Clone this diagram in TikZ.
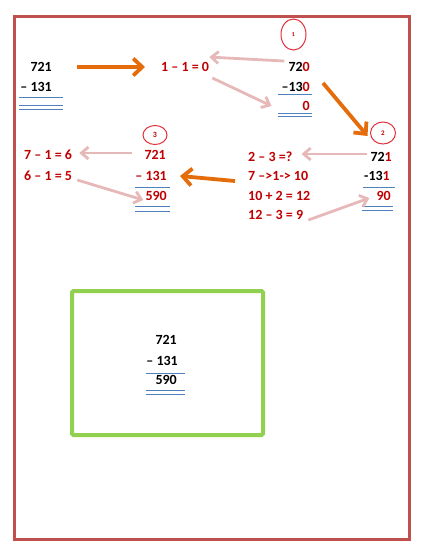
\documentclass[tikz,border=0pt]{standalone}
\usepackage{fontspec}
\setmainfont{Carlito}
\usetikzlibrary{arrows.meta,shapes.geometric}
\definecolor{dred}{HTML}{C00000}
\definecolor{frame}{HTML}{C0504D}
\definecolor{grn}{HTML}{92D050}
\definecolor{orng}{HTML}{E46C0A}
\definecolor{pnk}{HTML}{E6B9B8}
\definecolor{bline}{HTML}{4F81BD}
\definecolor{circred}{HTML}{E0303A}
\tikzset{
  num/.style={inner sep=0pt, text height=9.5pt, text depth=0pt, font=\fontsize{14}{16}\bfseries\selectfont, text=black},
  rnum/.style={num, text=dred},
  orangearr/.style={draw=orng, line width=3.8pt, -{Straight Barb[length=9pt,width=17pt]}},
  pinkarr/.style={draw=pnk, line width=2.8pt, -{Straight Barb[length=7pt,width=12pt]}},
  sumline/.style={draw=bline, line width=0.9pt},
  circ/.style={ellipse, draw=circred, line width=1pt, inner sep=0pt, outer sep=0pt, text=dred, font=\fontsize{7}{8}\bfseries\selectfont}
}
\begin{document}
\begin{tikzpicture}[x=1pt,y=-1pt]
\useasboundingbox (0,0) rectangle (422,547);
% outer frame
\draw[frame, line width=3pt] (14,16) rectangle (409,539);
% green box
\draw[grn, line width=4pt, rounded corners=1.5pt] (72,291) rectangle (263,435);

% top-left sum
\node[num, anchor=east] (tl1) at (52,67) {721};
\node[num, anchor=east] (tl2) at (52,87) {– 131};
\draw[sumline] (19,97) -- (63,97);
\draw[sumline] (19,105) -- (63,105);
\draw[sumline] (19,109) -- (63,109);

% 1 - 1 = 0
\node[rnum, anchor=west] (e1) at (161,67) {1 – 1 = 0};
\draw[orangearr] ([xshift=25pt]tl1.east) -- ([xshift=-16pt]e1.west);

% step 1
\node[circ, minimum width=25pt, minimum height=31pt, font=\fontsize{6}{6}\bfseries\selectfont] (c1) at (293.5,34.5) {\raisebox{-4pt}{1}};
\node[num, anchor=east] (r1) at (310,67) {72\textcolor{dred}{0}};
\node[num, anchor=east] (r2) at (310,87) {–13\textcolor{dred}{0}};
\draw[sumline] (278,94) -- (312,94);
\node[rnum, anchor=east] (r3) at (310,106) {0};
\draw[sumline] (278,113) -- (312,113);
\draw[sumline] (278,116) -- (312,116);
\draw[pinkarr] ([xshift=-4pt,yshift=1pt]r1.north west) -- ([yshift=5pt]e1.north east);
\draw[pinkarr] ([xshift=3pt,yshift=-6pt]e1.south east) -- ([xshift=-31pt]r3.west);

% step 2
\node[circ, minimum width=25pt, minimum height=22pt] (c2) at (383,133) {2};
\draw[orangearr] ([xshift=13pt,yshift=4pt]r2.east) -- ([xshift=-3pt,yshift=-3pt]c2.west);
\node[num, anchor=east] (m1) at (392,157) {72\textcolor{dred}{1}};
\node[num, anchor=east] (m2) at (390,176) {-13\textcolor{dred}{1}};
\draw[sumline] (363,187) -- (395,187);
\node[rnum, anchor=east] (m3) at (391,196) {90};
\draw[sumline] (362,206) -- (393,206);
\draw[sumline] (362,210) -- (393,210);

\node[rnum, anchor=west] (t1) at (248,157) {2 – 3 =?};
\node[rnum, anchor=west] (t2) at (248,176) {7 –>1-> 10};
\node[rnum, anchor=west] (t3) at (248,196) {10 + 2 = 12};
\node[rnum, anchor=west] (t4) at (248,215) {12 – 3 = 9};
\draw[pinkarr] ([xshift=-3pt,yshift=3pt]m1.west) -- ([xshift=9pt,yshift=3pt]t1.east);
\draw[pinkarr] ([xshift=5pt,yshift=-5pt]t4.east) -- ([xshift=-7pt,yshift=-2pt]m3.west);

% step 3
\node[circ, minimum width=24pt, minimum height=19pt, font=\fontsize{8}{8}\bfseries\selectfont] (c3) at (155,135) {3};
\node[rnum, anchor=east] (n1) at (166,155) {721};
\node[rnum, anchor=east] (n2) at (167,176) {– 131};
\draw[sumline] (135,187) -- (170,187);
\node[rnum, anchor=east] (n3) at (167,196) {590};
\draw[sumline] (135,206) -- (170,206);
\draw[sumline] (135,211) -- (170,211);
\draw[orangearr] ([xshift=-13pt,yshift=-5pt]t2.west) -- ([xshift=13pt]n2.east);

\node[rnum, anchor=west] (s1) at (24,155) {7 – 1 = 6};
\node[rnum, anchor=west] (s2) at (24,176) {6 – 1 = 5};
\draw[pinkarr] ([xshift=-12pt,yshift=2pt]n1.west) -- ([xshift=7pt,yshift=2pt]s1.east);
\draw[pinkarr] ([xshift=5pt,yshift=-4pt]s2.east) -- ([xshift=-2pt,yshift=-4pt]n3.west);

% result in green box
\node[num, anchor=east] (g1) at (177,340) {721};
\node[num, anchor=east] (g2) at (178,361) {– 131};
\draw[sumline] (146,373) -- (185,373);
\node[num, anchor=east] (g3) at (177,380) {590};
\draw[sumline] (146,390) -- (185,390);
\draw[sumline] (146,394) -- (185,394);
\end{tikzpicture}
\end{document}
